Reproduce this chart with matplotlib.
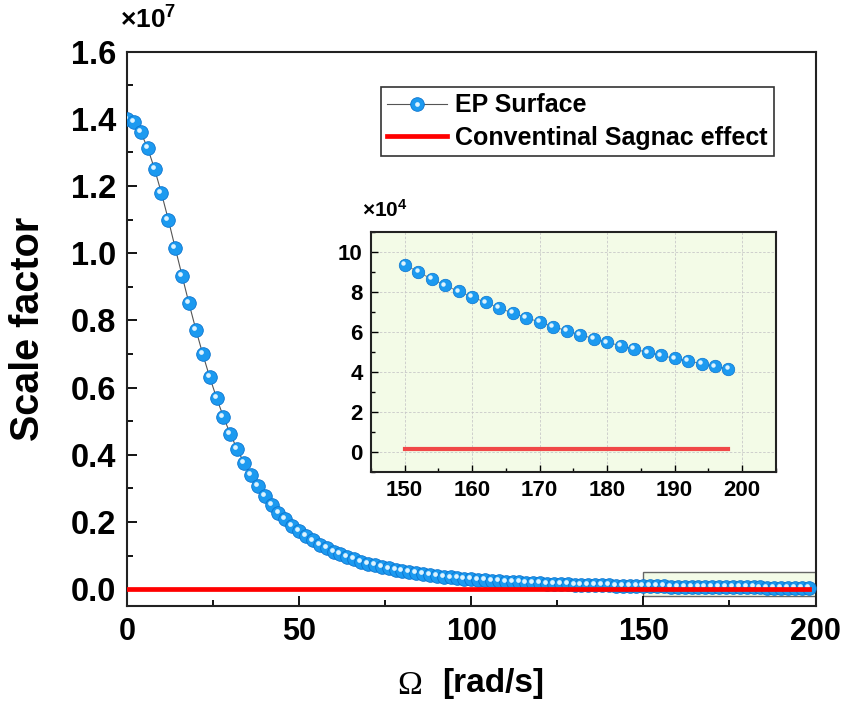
import matplotlib
matplotlib.use("Agg")
import matplotlib.pyplot as plt
from matplotlib.patches import Rectangle
from matplotlib.ticker import MultipleLocator, FormatStrFormatter
import matplotlib.transforms as mtransforms

plt.rcParams['font.family'] = ['Liberation Sans', 'DejaVu Sans']
plt.rcParams['font.weight'] = 'bold'
plt.rcParams['mathtext.fontset'] = 'custom'
plt.rcParams['mathtext.rm'] = 'Liberation Sans:bold'
plt.rcParams['mathtext.bf'] = 'Liberation Sans:bold'

# Omega [rad/s], every 2 rad/s
omega = list(range(0, 200, 2))
# EP surface scale factor, units of 1e7
ep_scale = [
    1.400, 1.390, 1.360, 1.313, 1.251, 1.179, 1.100, 1.016, 0.933, 0.851,
    0.773, 0.700, 0.632, 0.570, 0.513, 0.462, 0.417, 0.376, 0.339, 0.306,
    0.277, 0.251, 0.228, 0.208, 0.189, 0.173, 0.158, 0.145, 0.133, 0.122,
    0.112, 0.104, 0.0959, 0.0888, 0.0823, 0.0764, 0.0711, 0.0662, 0.0617, 0.0576,
    0.0539, 0.0505, 0.0473, 0.0444, 0.0417, 0.0393, 0.0370, 0.0349, 0.0329, 0.0311,
    0.0294, 0.0278, 0.0264, 0.0250, 0.0237, 0.0225, 0.0214, 0.0204, 0.0194, 0.0185,
    0.0176, 0.0168, 0.0161, 0.0153, 0.0147, 0.0140, 0.0134, 0.0129, 0.0123, 0.0118,
    0.0113, 0.0109, 0.0105, 0.0100, 0.00966, 0.00937, 0.00900, 0.00865, 0.00833, 0.00803,
    0.00775, 0.00748, 0.00720, 0.00695, 0.00672, 0.00650, 0.00627, 0.00607, 0.00587, 0.00567,
    0.00548, 0.00532, 0.00515, 0.00498, 0.00483, 0.00468, 0.00455, 0.00442, 0.00428, 0.00415,
]
# conventional Sagnac scale factor (constant)
sagnac_value = 1300.0
zoom_start = 150

BLUE = '#1C9AF0'
BLUE_EDGE = '#0B74CF'
HIGHLIGHT = '#DDF3FF'
GREEN_BG = '#F3FBE7'

fig = plt.figure(figsize=(8.45, 7.04), dpi=100)
ax = fig.add_axes([0.1503, 0.1392, 0.8148, 0.7874])

ep_raw = [v * 1e7 for v in ep_scale]
sagnac = [sagnac_value for _ in omega]

hi_off = mtransforms.ScaledTranslation(-1.4 / 72, 1.4 / 72, fig.dpi_scale_trans)

l_ep, = ax.plot(omega, [v / 1e7 for v in ep_raw], color='#555555', lw=0.8,
                marker='o', ms=9.8, mfc=BLUE, mec=BLUE_EDGE, mew=0.6, zorder=3)
l_hi, = ax.plot(omega, [v / 1e7 for v in ep_raw], ls='none', marker='o', ms=3.4,
                mfc=HIGHLIGHT, mec='none', zorder=4,
                transform=ax.transData + hi_off)
l_red, = ax.plot(omega, [v / 1e7 for v in sagnac], color='#FF0000', lw=3.4, zorder=5)

ax.add_patch(Rectangle((zoom_start, -0.021), 200 - zoom_start, 0.072,
                       facecolor=GREEN_BG, edgecolor='#666666', lw=1.0, zorder=1))

ax.set_xlim(0, 200)
ax.set_ylim(-0.05, 1.6)
ax.xaxis.set_major_locator(MultipleLocator(50))
ax.xaxis.set_minor_locator(MultipleLocator(25))
ax.yaxis.set_major_locator(MultipleLocator(0.2))
ax.yaxis.set_minor_locator(MultipleLocator(0.1))
ax.yaxis.set_major_formatter(FormatStrFormatter('%.1f'))
ax.tick_params(which='both', direction='in', width=1.3, pad=8)
ax.tick_params(axis='x', labelsize=22)
ax.tick_params(axis='y', labelsize=23.5)
ax.tick_params(which='major', length=7)
ax.tick_params(which='minor', length=4)
for s in ax.spines.values():
    s.set_linewidth(1.5)
    s.set_color('#222222')

ax.set_ylabel('Scale factor', fontsize=28.5, fontweight='bold')
ax.yaxis.set_label_coords(-0.116, 0.5)

# x label: serif Omega + bold unit
fig.text(397 / 845, 1 - 694 / 704, '\u03a9', fontsize=24, fontweight='normal',
         family=['Liberation Serif', 'DejaVu Serif'], va='baseline', ha='left')
fig.text(442 / 845, 1 - 692 / 704, '[rad/s]', fontsize=24, fontweight='bold',
         va='baseline', ha='left')

fig.text(120 / 845, 1 - 29 / 704, r'$\mathbf{\times10^{7}}$', fontsize=19,
         va='baseline')

leg = ax.legend([(l_ep, l_hi), l_red], ['EP Surface', 'Conventinal Sagnac effect'],
                loc='upper left', bbox_to_anchor=(0.369, 0.936), borderaxespad=0,
                fontsize=18, frameon=True, fancybox=False, edgecolor='#333333',
                framealpha=1, handlelength=2.4, handletextpad=0.3,
                borderpad=0.25, labelspacing=0.35)
leg.get_frame().set_linewidth(1.2)

# inset
ins = fig.add_axes([0.439, 0.3295, 0.479, 0.341], facecolor=GREEN_BG)
sub_x = [o for o in omega if o >= zoom_start]
sub_ep = [ep_raw[i] / 1e4 for i, o in enumerate(omega) if o >= zoom_start]
sub_sg = [sagnac[i] / 1e4 for i, o in enumerate(omega) if o >= zoom_start]
ins_off = mtransforms.ScaledTranslation(-1.2 / 72, 1.2 / 72, fig.dpi_scale_trans)
ins.plot(sub_x, sub_ep, color='#888888', lw=0.8, marker='o', ms=9,
         mfc=BLUE, mec=BLUE_EDGE, mew=0.5, zorder=3)
ins.plot(sub_x, sub_ep, ls='none', marker='o', ms=3.2, mfc=HIGHLIGHT, mec='none',
         zorder=4, transform=ins.transData + ins_off)
ins.plot(sub_x, sub_sg, color='#F04848', lw=3, zorder=3)
ins.set_xlim(145, 205)
ins.set_ylim(-1, 11)
ins.xaxis.set_major_locator(MultipleLocator(10))
ins.xaxis.set_minor_locator(MultipleLocator(5))
ins.yaxis.set_major_locator(MultipleLocator(2))
ins.yaxis.set_minor_locator(MultipleLocator(1))
ins.grid(True, which='major', color='#C8C8C8', ls=(0, (3, 2)), lw=0.6)
ins.set_axisbelow(True)
ins.tick_params(which='both', direction='in', width=1.0, labelsize=16, pad=6)
ins.tick_params(which='major', length=5)
ins.tick_params(which='minor', length=3)
for s in ins.spines.values():
    s.set_linewidth(1.5)
    s.set_color('#222222')
fig.text(362 / 845, 1 - 217 / 704, r'$\mathbf{\times10^{4}}$', fontsize=15,
         va='baseline')

fig.savefig('out.png', dpi=100)
